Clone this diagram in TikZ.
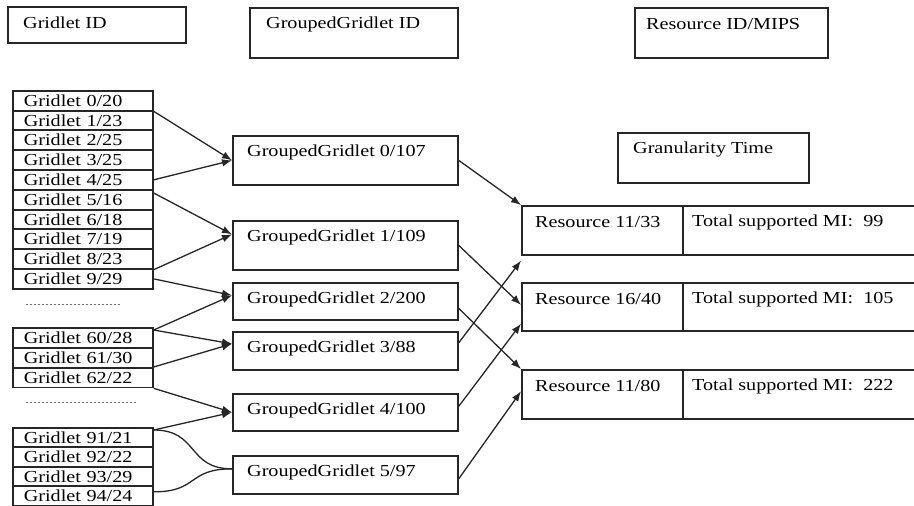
\documentclass[tikz,border=0pt]{standalone}
\usepackage{fontspec}
\setmainfont[FakeStretch=1.2]{Liberation Serif}
\usetikzlibrary{arrows.meta,calc}
\newcommand\labbox[7]{%
  \node[box, minimum width=#4pt, minimum height=#5pt] (#1) at (#2,#3) {};
  \node[anchor=west, inner sep=0pt] (#1-t) at ([xshift=#6pt, yshift=-17pt]#1.north west) {#7};}
\begin{document}
\begin{tikzpicture}[x=1pt,y=-1pt,
  font=\rmfamily\fontsize{16.8}{19}\selectfont,
  box/.style={draw=black!85, line width=1.7pt, inner sep=0pt, anchor=north west},
  gridrow/.style={draw=black!85, line width=1.7pt, anchor=north west,
    minimum width=140pt, minimum height=19.6pt, inner xsep=11pt, inner ysep=0pt,
    text width=118pt, align=left},
  arr/.style={-{Latex[length=10pt,width=7.5pt]}, line width=1.3pt, draw=black!85},
  plain/.style={line width=1.3pt, draw=black!85},
  dots/.style={draw=black!55, line width=1pt, dash pattern=on 1.5pt off 2.5pt}]
\clip (0,0) rectangle (914,506);
\fill[white] (0,0) rectangle (914,506);

% headers
\labbox{gid}{7}{6}{178}{36}{16}{Gridlet ID}
\labbox{ggid}{249}{7}{208}{50}{17}{GroupedGridlet ID}
\labbox{rid}{634}{7}{193}{50}{12}{Resource ID/MIPS}
\labbox{gran}{617}{132}{191}{50}{16}{Granularity Time}

% gridlet lists
\foreach \n/\v [count=\i from 0] in {0/20,1/23,2/25,3/25,4/25,5/16,6/18,7/19,8/23,9/29}
  \node[gridrow] (g\n) at (12,{90+19.8*\i}) {Gridlet \n/\v};
\foreach \n/\v [count=\i from 0] in {60/28,61/30,62/22}
  \node[gridrow] (g\n) at (12,{327+20*\i}) {Gridlet \n/\v};
\foreach \n/\v [count=\i from 0] in {91/21,92/22,93/29,94/24}
  \node[gridrow] (g\n) at (12,{427+19.4*\i}) {Gridlet \n/\v};

\draw[dots] (26,304) -- (120,304);
\draw[dots] (26,402) -- (136,402);

% grouped gridlets
\labbox{gg0}{232}{135}{225}{49}{15}{GroupedGridlet 0/107}
\labbox{gg1}{232}{220}{225}{49}{15}{GroupedGridlet 1/109}
\labbox{gg2}{232}{282}{225}{37}{15}{GroupedGridlet 2/200}
\labbox{gg3}{232}{331}{225}{38}{15}{GroupedGridlet 3/88}
\labbox{gg4}{232}{393}{225}{37}{15}{GroupedGridlet 4/100}
\labbox{gg5}{232}{455}{225}{38}{15}{GroupedGridlet 5/97}

% resources
\labbox{r0}{521}{205}{161}{49}{14}{Resource 11/33}
\labbox{m0}{682}{205}{240}{49}{10}{Total supported MI:\ \ 99}
\labbox{r1}{521}{282}{161}{48}{14}{Resource 16/40}
\labbox{m1}{682}{282}{240}{48}{10}{Total supported MI:\ \ 105}
\labbox{r2}{521}{369}{161}{49}{14}{Resource 11/80}
\labbox{m2}{682}{369}{240}{49}{10}{Total supported MI:\ \ 222}

% gridlets -> grouped gridlets
\draw[arr] (g0.south east) -- (gg0.west);
\draw[arr] (g4.east) -- (gg0.west);
\draw[arr] ([yshift=-4pt]g5.north east) -- ([yshift=11pt]gg1.west);
\draw[arr] (g8.south east) -- ([yshift=11pt]gg1.west);
\draw[arr] (g9.east) -- ([yshift=6pt]gg2.west);
\draw[arr] ([yshift=-3pt]g60.north east) -- ([yshift=6pt]gg2.west);
\draw[arr] ([yshift=-3pt]g60.north east) -- ([yshift=7pt]gg3.west);
\draw[arr] (g62.north east) -- ([yshift=7pt]gg3.west);
\draw[arr] (g62.south east) -- (gg4.west);
\draw[arr] ([yshift=-3pt]g91.north east) -- (gg4.west);
\draw[plain] ([yshift=-3pt]g91.north east) .. controls +(45,0) and +(-45,0) .. ([yshift=6pt]gg5.west);
\draw[plain] ([yshift=4pt]g94.east) .. controls +(45,0) and +(-45,0) .. ([yshift=6pt]gg5.west);

% grouped gridlets -> resources
\draw[arr] (gg0.east) -- (r0.north west);
\draw[arr] (gg1.east) -- ([yshift=2pt]r1.west);
\draw[arr] ([yshift=-7pt]gg2.east) -- (r2.north west);
\draw[arr] ([yshift=8pt]gg3.east) -- ([yshift=-5pt]r0.south west);
\draw[arr] ([yshift=6pt]gg4.east) -- ([yshift=8pt]r1.south west);
\draw[arr] ([yshift=-4pt]gg5.east) -- ([yshift=3pt]r2.west);
\end{tikzpicture}
\end{document}
